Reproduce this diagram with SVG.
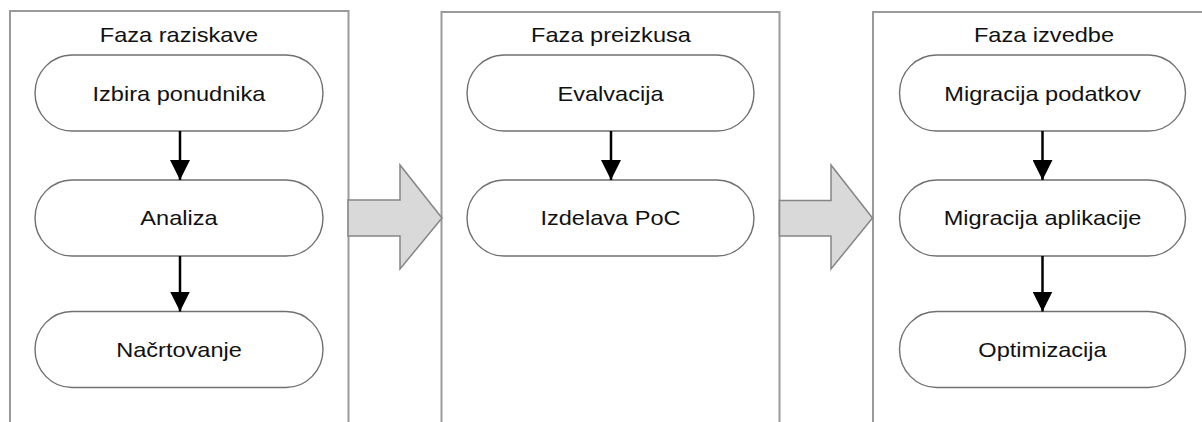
<svg xmlns="http://www.w3.org/2000/svg" width="1202" height="422" viewBox="0 0 1202 422">
<style>
.phase{fill:#ffffff;stroke:#9a9a9a;stroke-width:2}
.pill{fill:#ffffff;stroke:#707070;stroke-width:1.4}
.big{fill:#d9d9d9;stroke:#858585;stroke-width:1.5;stroke-linejoin:miter}
.lbl{font-family:"Liberation Sans",Arial,sans-serif;font-size:20.5px;fill:#111111;text-anchor:middle}
.conn{stroke:#000000;stroke-width:2.5;fill:none}
</style>
<defs>
<marker id="ah" markerUnits="userSpaceOnUse" markerWidth="20" markerHeight="20" viewBox="0 0 20 20" refX="20" refY="10" orient="auto">
<path d="M0,0 L20,10 L0,20 z" fill="#000000"/>
</marker>
</defs>
<rect fill="#ffffff" x="0" y="0" width="1202" height="422"/>

<g id="phase-research">
<rect class="phase" x="10" y="11" width="338.5" height="430"/>
<text class="lbl" transform="matrix(1.15 0 0 1 179 42)">Faza raziskave</text>
</g>
<g id="phase-trial">
<rect class="phase" x="441.5" y="12" width="338" height="430"/>
<text class="lbl" transform="matrix(1.15 0 0 1 611 42)">Faza preizkusa</text>
</g>
<g id="phase-exec">
<rect class="phase" x="873" y="12" width="338" height="430"/>
<text class="lbl" transform="matrix(1.15 0 0 1 1044 42)">Faza izvedbe</text>
</g>

<g id="big-arrow-1"><polygon class="big" points="348,200 400,200 400,165 442,218 400,269 400,236 348,236"/></g>
<g id="big-arrow-2"><polygon class="big" points="779.5,200.5 831,200.5 831,165 872.5,218 831,269 831,236 779.5,236"/></g>

<g id="n-izbira">
<rect class="pill" x="35" y="55" width="288" height="76" rx="37" ry="38"/>
<text class="lbl" transform="matrix(1.15 0 0 1 179 100.5)">Izbira ponudnika</text>
</g>
<g id="n-analiza">
<rect class="pill" x="35" y="180" width="288" height="76" rx="37" ry="38"/>
<text class="lbl" transform="matrix(1.15 0 0 1 179 225)">Analiza</text>
</g>
<g id="n-nacrtovanje">
<rect class="pill" x="35" y="311.5" width="288" height="76" rx="37" ry="38"/>
<text class="lbl" transform="matrix(1.15 0 0 1 179 357)">Načrtovanje</text>
</g>

<g id="n-evalvacija">
<rect class="pill" x="467" y="55" width="287" height="76" rx="37" ry="38"/>
<text class="lbl" transform="matrix(1.15 0 0 1 610.5 100.5)">Evalvacija</text>
</g>
<g id="n-poc">
<rect class="pill" x="467" y="180" width="287" height="76" rx="37" ry="38"/>
<text class="lbl" transform="matrix(1.15 0 0 1 610.5 225)">Izdelava PoC</text>
</g>

<g id="n-migpod">
<rect class="pill" x="899.5" y="55" width="286" height="76" rx="37" ry="38"/>
<text class="lbl" transform="matrix(1.15 0 0 1 1042.5 100.5)">Migracija podatkov</text>
</g>
<g id="n-migapl">
<rect class="pill" x="899.5" y="180" width="286" height="76" rx="37" ry="38"/>
<text class="lbl" transform="matrix(1.15 0 0 1 1042.5 225)">Migracija aplikacije</text>
</g>
<g id="n-opt">
<rect class="pill" x="899.5" y="311.5" width="286" height="76" rx="37" ry="38"/>
<text class="lbl" transform="matrix(1.15 0 0 1 1042.5 357)">Optimizacija</text>
</g>

<g id="connectors">
<line class="conn" x1="180" y1="131" x2="180" y2="180" marker-end="url(#ah)"/>
<line class="conn" x1="180" y1="256" x2="180" y2="311.5" marker-end="url(#ah)"/>
<line class="conn" x1="611" y1="131" x2="611" y2="180" marker-end="url(#ah)"/>
<line class="conn" x1="1042.5" y1="131" x2="1042.5" y2="180" marker-end="url(#ah)"/>
<line class="conn" x1="1042.5" y1="256" x2="1042.5" y2="311.5" marker-end="url(#ah)"/>
</g>
</svg>
